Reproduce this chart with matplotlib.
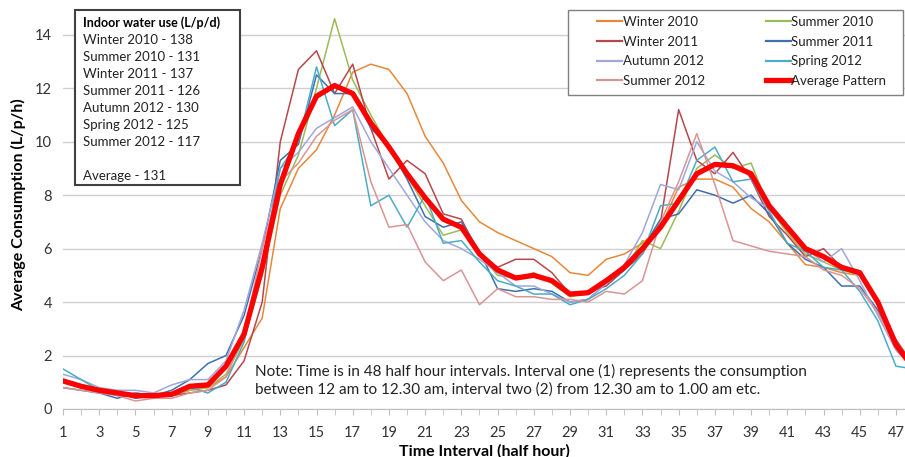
import numpy as np
import matplotlib
matplotlib.use('Agg')
import matplotlib.pyplot as plt
from matplotlib.patches import Rectangle

plt.rcParams['font.family'] = ['Lato', 'DejaVu Sans']

# half-hour intervals 1..48
intervals = np.arange(1, 49)

winter_2010 = [1.0, 0.8, 0.7, 0.6, 0.5, 0.5, 0.5, 0.7, 0.8, 1.2, 2.3, 3.4, 7.5, 9.0, 9.7, 11.0,
               12.6, 12.9, 12.7, 11.8, 10.2, 9.2, 7.8, 7.0, 6.6, 6.3, 6.0, 5.7, 5.1, 5.0, 5.6, 5.8,
               6.2, 6.8, 8.3, 8.6, 8.6, 8.3, 7.5, 7.0, 6.2, 5.4, 5.3, 5.1, 5.0, 4.0, 2.5, 1.5]
summer_2010 = [1.1, 0.9, 0.7, 0.6, 0.5, 0.5, 0.5, 0.7, 0.8, 1.3, 2.6, 5.0, 8.0, 9.5, 12.0, 14.6,
               12.3, 11.0, 9.8, 8.7, 7.6, 6.5, 6.7, 5.8, 5.0, 4.9, 5.1, 4.7, 4.2, 4.3, 4.8, 5.2,
               6.3, 6.0, 7.4, 9.0, 9.5, 9.0, 9.2, 7.5, 6.6, 5.8, 5.5, 5.2, 5.0, 3.9, 2.4, 1.6]
winter_2011 = [1.0, 0.8, 0.7, 0.6, 0.4, 0.5, 0.5, 0.6, 0.7, 0.9, 1.8, 4.0, 10.0, 12.7, 13.4, 11.8,
               12.9, 10.5, 8.6, 9.3, 8.8, 7.3, 7.1, 5.8, 5.3, 5.6, 5.6, 5.1, 4.3, 4.4, 4.6, 5.2,
               5.8, 7.0, 11.2, 9.3, 8.8, 9.6, 8.6, 7.2, 6.5, 5.7, 6.0, 5.3, 5.0, 4.0, 2.6, 1.6]
summer_2011 = [0.8, 0.7, 0.6, 0.4, 0.6, 0.5, 0.7, 1.1, 1.7, 2.0, 3.5, 6.0, 9.3, 9.9, 12.5, 11.8,
               11.8, 10.5, 9.8, 8.6, 7.2, 6.8, 7.0, 5.9, 4.5, 4.4, 4.5, 4.4, 4.0, 4.1, 4.7, 5.2,
               6.0, 7.1, 7.3, 8.2, 8.0, 7.7, 8.0, 7.3, 6.2, 5.6, 5.3, 4.6, 4.6, 3.7, 2.3, 1.5]
autumn_2012 = [1.3, 1.1, 0.8, 0.7, 0.7, 0.6, 0.9, 1.1, 1.1, 1.8, 3.7, 6.2, 9.0, 9.6, 10.5, 10.9,
               11.3, 10.0, 9.0, 8.0, 7.0, 6.3, 6.0, 5.6, 5.1, 4.6, 4.6, 4.3, 4.0, 4.1, 4.7, 5.4,
               6.6, 8.4, 8.2, 10.0, 8.9, 8.5, 7.9, 7.5, 6.7, 6.0, 5.5, 6.0, 4.8, 3.5, 2.2, 1.5]
spring_2012 = [1.5, 1.1, 0.7, 0.5, 0.6, 0.5, 0.5, 0.8, 0.6, 1.0, 2.5, 5.5, 9.0, 10.0, 12.8, 10.6,
               11.2, 7.6, 8.0, 6.8, 8.0, 6.2, 6.3, 5.5, 4.8, 4.6, 4.3, 4.3, 3.9, 4.1, 4.5, 5.0,
               5.8, 7.6, 7.7, 9.3, 9.8, 8.5, 8.6, 7.4, 6.2, 5.9, 5.3, 5.2, 4.4, 3.3, 1.6, 1.5]
summer_2012 = [0.8, 0.7, 0.6, 0.5, 0.3, 0.4, 0.4, 0.6, 0.7, 1.2, 2.8, 6.0, 8.5, 9.2, 10.2, 10.8,
               11.2, 8.5, 6.8, 6.9, 5.5, 4.8, 5.2, 3.9, 4.5, 4.2, 4.2, 4.1, 4.1, 4.0, 4.4, 4.3,
               4.8, 7.0, 8.5, 10.3, 8.4, 6.3, 6.1, 5.9, 5.8, 5.7, 5.2, 5.0, 4.5, 3.6, 2.3, 1.6]
average = [1.05, 0.85, 0.7, 0.6, 0.5, 0.5, 0.55, 0.85, 0.9, 1.6, 2.8, 5.3, 8.4, 10.3, 11.7, 12.1,
           11.8, 10.7, 9.8, 8.8, 7.9, 7.1, 6.8, 5.8, 5.2, 4.9, 5.0, 4.8, 4.3, 4.35, 4.8, 5.3,
           6.0, 6.8, 7.8, 8.8, 9.15, 9.1, 8.8, 7.6, 6.8, 6.0, 5.7, 5.3, 5.1, 4.0, 2.4, 1.5]

series = [
    ('Winter 2010', winter_2010, '#E8883A'),
    ('Summer 2010', summer_2010, '#9BBB59'),
    ('Winter 2011', winter_2011, '#B7474B'),
    ('Summer 2011', summer_2011, '#3F6FAF'),
    ('Autumn 2012', autumn_2012, '#9FA8DA'),
    ('Spring 2012', spring_2012, '#4BACC6'),
    ('Summer 2012', summer_2012, '#D99594'),
]

inset_lines = ['Winter 2010 - 138', 'Summer 2010 - 131', 'Winter 2011 - 137',
               'Summer 2011 - 126', 'Autumn 2012 - 130', 'Spring 2012 - 125',
               'Summer 2012 - 117', '', 'Average - 131']

fig = plt.figure(figsize=(9.05, 4.57), dpi=100)
ax = fig.add_axes([63 / 905, 1 - 409 / 457, 842 / 905, 409 / 457])

handles = {}
for name, vals, col in series:
    h, = ax.plot(intervals, vals, color=col, lw=1.1, label=name)
    handles[name] = h
h, = ax.plot(intervals, average, color='#FF0000', lw=3.8, label='Average Pattern',
             solid_joinstyle='round')
handles['Average Pattern'] = h

ax.set_xlim(1, 47.5)
ax.set_ylim(0, 15.3)
ax.set_yticks(np.arange(0, 15, 2))
ax.set_xticks(np.arange(1, 48, 2))
ax.set_xticks(np.arange(1, 48), minor=True)
ax.grid(axis='y', color='#D0D0D0', lw=1.0)
ax.set_axisbelow(True)
for s in ['top', 'right', 'left']:
    ax.spines[s].set_visible(False)
ax.spines['bottom'].set_color('#BFBFBF')
ax.tick_params(axis='y', length=0, labelsize=10.5, pad=8, labelcolor='#333333')
ax.tick_params(axis='x', which='both', length=4, color='#BFBFBF', labelsize=10.5,
               labelcolor='#333333', pad=8)

ax.set_xlabel('Time Interval (half hour)', fontsize=11.5, fontweight='bold', labelpad=3)
ax.set_ylabel('Average Consumption (L/p/h)', fontsize=11.5, fontweight='bold', labelpad=6)

# legend frame drawn by hand, entries laid out row by row like the original
ax.add_patch(Rectangle((505 / 842, 1 - 95 / 409), 335 / 842, 85 / 409,
                       transform=ax.transAxes, facecolor='white', edgecolor='#808080',
                       lw=1.0, zorder=5))
order = ['Winter 2010', 'Winter 2011', 'Autumn 2012', 'Summer 2012',
         'Summer 2010', 'Summer 2011', 'Spring 2012', 'Average Pattern']
leg = ax.legend([handles[k] for k in order], order, ncol=2, loc='upper left',
                bbox_to_anchor=(534 / 842, 1 - 16 / 409), fontsize=9.5, frameon=False,
                handlelength=1.9, handletextpad=0.05, columnspacing=4.6,
                labelspacing=0.58, borderpad=0, borderaxespad=0)
leg.set_zorder(6)
for t in leg.get_texts():
    t.set_color('#222222')
for lh in leg.legend_handles[:-1]:
    lh.set_linewidth(1.6)

# inset box with indoor water use
ax.add_patch(Rectangle((12 / 842, 1 - 185 / 409), 165 / 842, 175 / 409,
                       transform=ax.transAxes, facecolor='white', edgecolor='#404040',
                       lw=1.5, zorder=5))
ax.text(20 / 842, 1 - 23 / 409, 'Indoor water use (L/p/d)', transform=ax.transAxes,
        fontsize=9, fontweight='bold', va='center', zorder=6)
for i, t in enumerate(inset_lines):
    ax.text(20 / 842, 1 - (40 + 17 * i) / 409, t, transform=ax.transAxes,
            fontsize=9.5, va='center', zorder=6, color='#222222')

ax.text(192 / 842, 1 - 380 / 409,
        'Note: Time is in 48 half hour intervals. Interval one (1) represents the consumption\n'
        'between 12 am to 12.30 am, interval two (2) from 12.30 am to 1.00 am etc.',
        transform=ax.transAxes, fontsize=11, va='center', linespacing=1.3,
        color='#222222')

fig.savefig('out.png', dpi=100)
